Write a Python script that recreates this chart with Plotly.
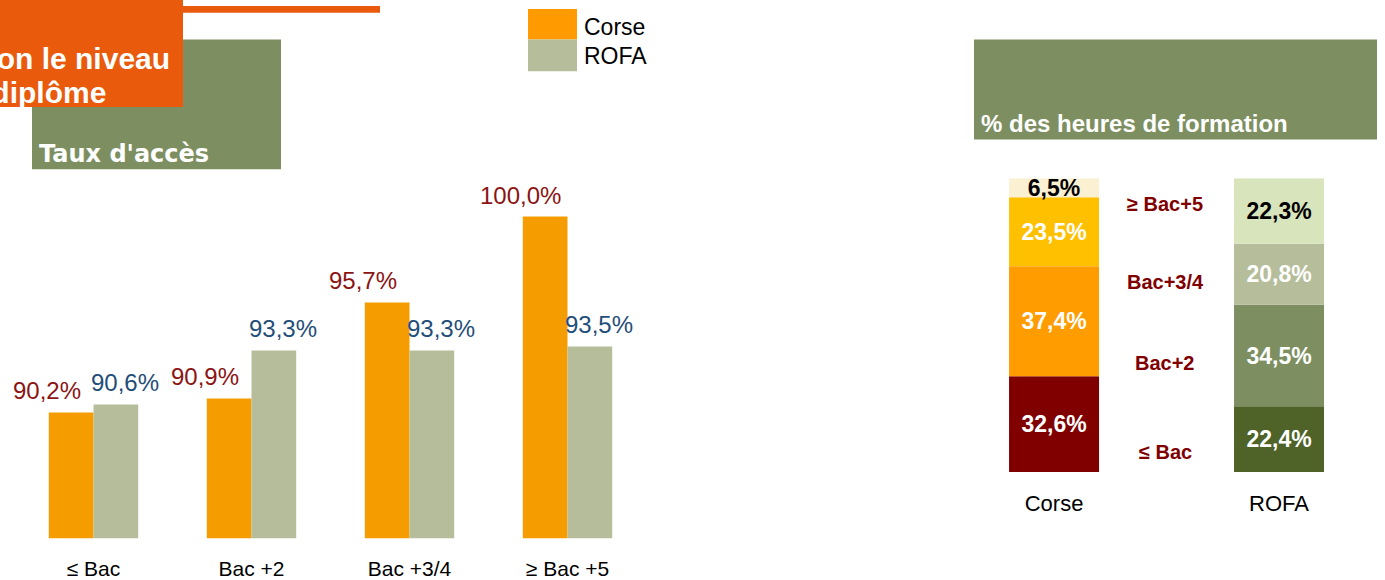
import numpy as np
import plotly.graph_objects as go

# ---------------- data ----------------
levels_left = ["≤ Bac", "Bac +2", "Bac +3/4", "≥ Bac +5"]
series_names = ["Corse", "ROFA"]
acces_corse = [90.2, 90.9, 95.7, 100.0]
acces_rofa = [90.6, 93.3, 93.3, 93.5]

levels_right = ["≤ Bac", "Bac+2", "Bac+3/4", "≥ Bac+5"]
heures_corse = [32.6, 37.4, 23.5, 6.5]
heures_rofa = [22.4, 34.5, 20.8, 22.3]

title_lines = ["selon le niveau", "de diplôme"]
left_title = "Taux d'accès"
right_title = "% des heures de formation"

# ---------------- styles ----------------
W, H = 1385, 580
FONT = "Liberation Sans, Arial, sans-serif"
C_ORANGE = "#F59D00"
C_ROFA = "#B6BD9B"
C_RED_TXT = "#8B1414"
C_BLUE_TXT = "#1F4E79"
C_GREEN_BOX = "#7D8F61"
C_TITLE = "#E95A0C"
corse_cols = ["#800000", "#FF9C00", "#FFC000", "#FBF0D2"]
rofa_cols = ["#4F6228", "#7D8F61", "#B6BD9B", "#D8E4BC"]
corse_txt = ["white", "white", "white", "black"]
rofa_txt = ["white", "white", "white", "black"]


def px(x):
    return x / W


def py(y):
    return 1 - y / H


def fmt(v):
    return f"{v:.1f}".replace(".", ",") + "%"


fig = go.Figure()

# ---------- left grouped bars ----------
fig.add_trace(go.Bar(x=levels_left, y=acces_corse, name=series_names[0],
                     marker=dict(color=C_ORANGE, line=dict(width=0)),
                     xaxis="x", yaxis="y", showlegend=False, hoverinfo="skip"))
fig.add_trace(go.Bar(x=levels_left, y=acces_rofa, name=series_names[1],
                     marker=dict(color=C_ROFA, line=dict(width=0)),
                     xaxis="x", yaxis="y", showlegend=False, hoverinfo="skip"))

annotations = []
for cat, v in zip(levels_left, acces_corse):
    annotations.append(dict(x=cat, y=v, xref="x", yref="y", text=fmt(v),
                            showarrow=False, xshift=-47, yshift=6, yanchor="bottom",
                            font=dict(family=FONT, size=24, color=C_RED_TXT)))
for cat, v in zip(levels_left, acces_rofa):
    annotations.append(dict(x=cat, y=v, xref="x", yref="y", text=fmt(v),
                            showarrow=False, xshift=31, yshift=6, yanchor="bottom",
                            font=dict(family=FONT, size=24, color=C_BLUE_TXT)))

# ---------- right stacked bars ----------
base_c = np.concatenate([[0], np.cumsum(heures_corse)[:-1]])
base_r = np.concatenate([[0], np.cumsum(heures_rofa)[:-1]])
for i, lev in enumerate(levels_right):
    fig.add_trace(go.Bar(
        x=series_names, y=[heures_corse[i], heures_rofa[i]],
        base=[base_c[i], base_r[i]], width=0.4, offsetgroup="stack",
        name=lev, xaxis="x2", yaxis="y2", showlegend=False, hoverinfo="skip",
        marker=dict(color=[corse_cols[i], rofa_cols[i]], line=dict(width=0)),
        text=[fmt(heures_corse[i]), fmt(heures_rofa[i])],
        textposition="inside", insidetextanchor="middle", constraintext="none",
        textangle=0,
        textfont=dict(family=FONT, size=23, weight="bold",
                      color=[corse_txt[i], rofa_txt[i]]),
    ))

# middle level labels (position constants)
mid_label_y = [457, 367, 285, 206]
for lev, yy in zip(levels_right, mid_label_y):
    annotations.append(dict(x=px(1165), y=py(yy), xref="paper", yref="paper",
                            text=lev, showarrow=False, xanchor="center", yanchor="middle",
                            font=dict(family=FONT, size=20, weight="bold",
                                      color="#800000")))

# ---------- decorations ----------
shapes = [
    dict(type="rect", xref="paper", yref="paper", x0=px(32), x1=px(281),
         y0=py(171), y1=py(40), fillcolor=C_GREEN_BOX, line=dict(width=0), layer="below"),
    dict(type="rect", xref="paper", yref="paper", x0=px(0), x1=px(183),
         y0=py(108), y1=py(0), fillcolor=C_TITLE, line=dict(width=0), layer="below"),
    dict(type="rect", xref="paper", yref="paper", x0=px(183), x1=px(380),
         y0=py(13), y1=py(6), fillcolor=C_TITLE, line=dict(width=0), layer="below"),
    dict(type="rect", xref="paper", yref="paper", x0=px(974), x1=px(1377),
         y0=py(141), y1=py(40), fillcolor=C_GREEN_BOX, line=dict(width=0), layer="below"),
    # manual legend swatches
    dict(type="rect", xref="paper", yref="paper", x0=px(528), x1=px(577),
         y0=py(40), y1=py(9), fillcolor="#FF9A00", line=dict(width=0)),
    dict(type="rect", xref="paper", yref="paper", x0=px(528), x1=px(577),
         y0=py(72), y1=py(40), fillcolor=C_ROFA, line=dict(width=0)),
]

annotations += [
    dict(x=px(172), y=py(59), xref="paper", yref="paper", text=title_lines[0],
         xanchor="right", yanchor="middle", showarrow=False,
         font=dict(family=FONT, size=30, weight="bold", color="white")),
    dict(x=px(108), y=py(93), xref="paper", yref="paper", text=title_lines[1],
         xanchor="right", yanchor="middle", showarrow=False,
         font=dict(family=FONT, size=30, weight="bold", color="white")),
    dict(x=px(37), y=py(156), xref="paper", yref="paper", text=left_title,
         xanchor="left", yanchor="middle", showarrow=False,
         font=dict(family="DejaVu Sans, Verdana, sans-serif", size=24, weight="bold", color="white")),
    dict(x=px(979), y=py(125), xref="paper", yref="paper", text=right_title,
         xanchor="left", yanchor="middle", showarrow=False,
         font=dict(family=FONT, size=24, weight="bold", color="white")),
    dict(x=px(582), y=py(27), xref="paper", yref="paper", text=series_names[0],
         xanchor="left", yanchor="middle", showarrow=False,
         font=dict(family=FONT, size=23, color="black")),
    dict(x=px(582), y=py(57), xref="paper", yref="paper", text=series_names[1],
         xanchor="left", yanchor="middle", showarrow=False,
         font=dict(family=FONT, size=23, color="black")),
]

fig.update_layout(
    width=W, height=H, autosize=False,
    margin=dict(l=0, r=0, t=0, b=0, pad=0),
    paper_bgcolor="white", plot_bgcolor="rgba(0,0,0,0)",
    barmode="group", bargap=0.434, bargroupgap=0,
    showlegend=False,
    font=dict(family=FONT, color="black"),
    xaxis=dict(domain=[px(10.5), px(646.5)], type="category",
               showgrid=False, zeroline=False, showline=False,
               ticks="outside", ticklen=11, tickcolor="rgba(0,0,0,0)",
               tickfont=dict(family=FONT, size=21, color="black"), anchor="y"),
    yaxis=dict(domain=[py(544), py(180)], range=[83.9, 101.92],
               showgrid=False, zeroline=False, showline=False,
               showticklabels=False, ticks="", anchor="x"),
    xaxis2=dict(domain=[px(960), 1.0], type="category", range=[-0.418, 1.471],
                showgrid=False, zeroline=False, showline=False,
                ticks="outside", ticklen=12, tickcolor="rgba(0,0,0,0)",
                tickfont=dict(family=FONT, size=22, color="black"), anchor="y2"),
    yaxis2=dict(domain=[py(477), py(180)], range=[0, 100],
                showgrid=False, zeroline=False, showline=False,
                showticklabels=False, ticks="", anchor="x2"),
    shapes=shapes, annotations=annotations,
)

fig.write_html("out.html", config={"displayModeBar": False, "staticPlot": True},
               post_script="document.body.style.margin='0';document.body.style.overflow='hidden';")
